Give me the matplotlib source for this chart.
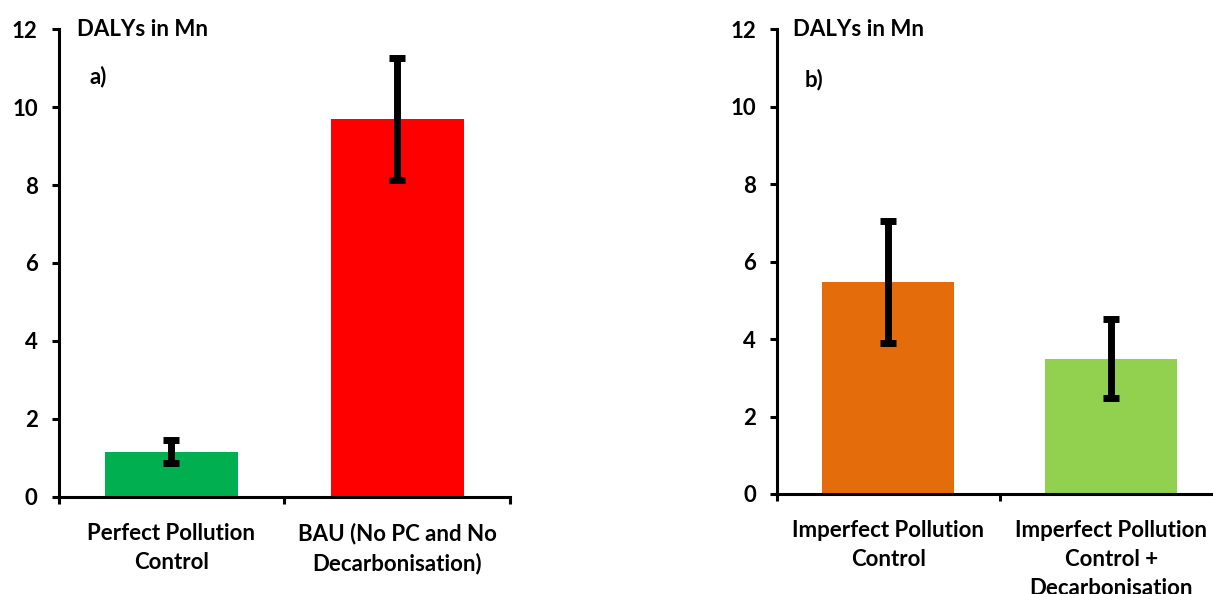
import matplotlib
matplotlib.use("Agg")
import matplotlib.pyplot as plt
from matplotlib.ticker import FixedLocator

plt.rcParams['font.family'] = ['Lato', 'DejaVu Sans']
plt.rcParams['font.weight'] = 'bold'

# Panel a
cats_a = ["Perfect Pollution\nControl", "BAU (No PC and No\nDecarbonisation)"]
vals_a = [1.14, 9.70]
err_lo_a = [0.87, 8.12]
err_hi_a = [1.44, 11.25]
colors_a = ["#00B050", "#FF0000"]

# Panel b
cats_b = ["Imperfect Pollution\nControl", "Imperfect Pollution\nControl +\nDecarbonisation"]
vals_b = [5.48, 3.48]
err_lo_b = [3.91, 2.47]
err_hi_b = [7.06, 4.51]
colors_b = ["#E46C0A", "#92D050"]

yticks = [0, 2, 4, 6, 8, 10, 12]
ylabel_txt = "DALYs in Mn"

W, H = 1213, 594
fig = plt.figure(figsize=(W / 100, H / 100), dpi=100)

def px_axes(x0, y0, x1, y1):
    return fig.add_axes([x0 / W, 1 - y0 / H, (x1 - x0) / W, (y0 - y1) / H])

ax_a = px_axes(58.5, 496.5, 510.0, 29.3)
ax_b = px_axes(776.7, 494.0, 1222.7, 29.3)

FS = 16

def draw(ax, cats, vals, lo, hi, colors, tag, tag_x, tag_y, lab_x):
    x = list(range(len(cats)))
    yerr = [[v - l for v, l in zip(vals, lo)], [h - v for v, h in zip(vals, hi)]]
    ax.bar(x, vals, width=0.59, color=colors, edgecolor='none', zorder=2)
    ax.errorbar(x, vals, yerr=yerr, fmt='none', ecolor='black', elinewidth=5,
                capsize=5.5, capthick=5, zorder=3)
    ax.set_xlim(-0.5, len(cats) - 0.5)
    ax.set_ylim(0, 12)
    ax.set_yticks(yticks)
    ax.set_yticklabels([str(t) for t in yticks], fontsize=FS, fontweight='bold')
    ax.set_xticks(x)
    ax.set_xticklabels(cats, fontsize=FS, fontweight='bold', linespacing=1.45)
    ax.xaxis.set_minor_locator(FixedLocator([i - 0.5 for i in range(len(cats) + 1)]))
    ax.tick_params(axis='x', which='major', length=0, pad=19)
    ax.tick_params(axis='x', which='minor', length=5, width=2.2, direction='out')
    ax.tick_params(axis='y', which='major', length=5, width=2.2, direction='out', pad=10)
    for s in ['top', 'right']:
        ax.spines[s].set_visible(False)
    for s in ['left', 'bottom']:
        ax.spines[s].set_linewidth(2.2)
    ax.text(lab_x, 1.0, ylabel_txt, transform=ax.transAxes, fontsize=FS,
            fontweight='bold', ha='left', va='center')
    ax.text(tag_x, tag_y, tag, transform=ax.transAxes, fontsize=FS,
            fontweight='bold', ha='left', va='center')

draw(ax_a, cats_a, vals_a, err_lo_a, err_hi_a, colors_a, "a)", 0.0676, 0.898, 0.041)
draw(ax_b, cats_b, vals_b, err_lo_b, err_hi_b, colors_b, "b)", 0.0635, 0.891, 0.0366)

fig.savefig("out.png", dpi=100)
